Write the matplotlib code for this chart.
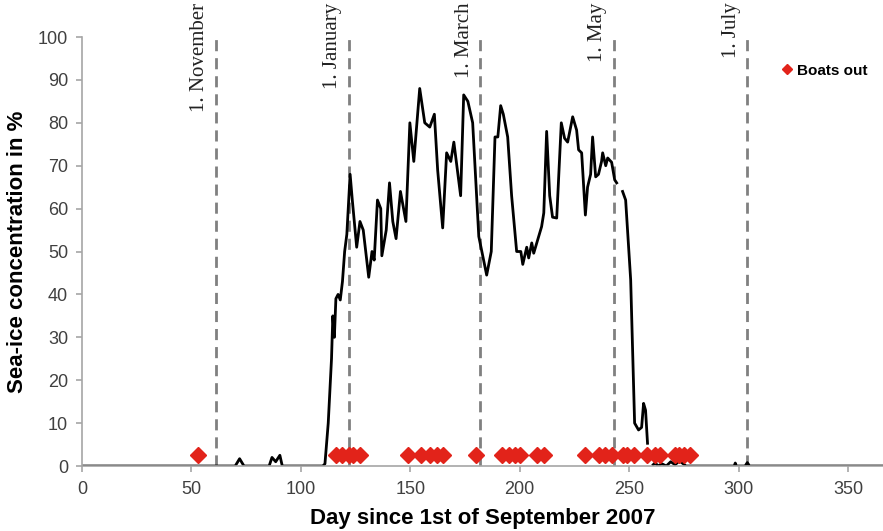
import matplotlib
matplotlib.use("Agg")
import numpy as np
import matplotlib.pyplot as plt

# sea-ice concentration (day since 1 Sep 2007, %)
ice_day = [0, 70, 72, 74, 85.5, 86.8, 88.5, 90.4, 91.5, 110, 111, 112.5, 114,
           114.6, 115.3, 116, 117, 118, 119, 120, 121, 122.5, 123.5, 125.5,
           127, 128.5, 131, 132.5, 133.5, 135, 136.5, 137, 139, 140.5, 142,
           143.5, 145.5, 148, 149.8, 151.6, 154.3, 156.6, 158.9, 161, 162.5,
           164.8, 166.6, 168.5, 169.9, 173, 174.4, 176.3, 178.5, 181.3, 184.9,
           187, 188.7, 190, 191.3, 192.5, 194.5, 196.3, 198.6, 200.5, 201.4,
           203.2, 204.1, 205.5, 206.4, 208.2, 210, 211, 212.3, 213.7, 215,
           216.9, 219, 220.5, 221.9, 224.2, 226, 226.9, 228.3, 230, 231, 232.4,
           233.3, 234.7, 236, 237.4, 237.9, 239.3, 240.2, 242, 243.4, 244.3,
           245, 247, 248.4, 250.7, 252.5, 254.3, 255.7, 256.6, 257.5, 258.4,
           259.5, 261, 262, 263, 265, 267, 269, 271, 273, 275, 276, 298,
           298.5, 299, 303, 304, 305, 366]
ice_pct = [0, 0, 1.7, 0, 0, 2, 1, 2.5, 0, 0, 0.5, 10, 25,
           35, 30, 39, 40, 38.7, 43, 50, 54, 68, 62, 51,
           57, 55, 44, 50, 48, 62, 60, 49, 55, 66, 57,
           53, 64, 57, 80, 71, 88, 80, 79, 82, 69,
           55.5, 73, 71, 75.5, 63, 86.5, 85, 80, 53.5, 44.5,
           50, 76.7, 76.7, 84, 82, 76.7, 63, 50, 50, 47,
           51, 48.5, 52, 49.6, 52.7, 55.8, 59, 78, 63, 58,
           57.8, 80, 76.4, 75.5, 81.4, 78.3, 73.7, 73, 58.5, 65, 68,
           76.7, 67.4, 68, 71, 73, 70, 71.8, 70.8, 66.7, 66,
           np.nan, 64, 62, 43.4, 10, 8.4, 9, 14.6, 13, 5.3,
           np.nan, 0.3, 0.8, 0, 0.5, 0, 1, 0.3, 1.2, 0.4, 0, 0,
           0.7, 0, 0, 0.8, 0, 0]

boat_days = [53, 116, 119, 122, 124, 127, 149, 155, 159, 162, 165, 180, 192,
             195, 198, 200, 208, 211, 230, 236, 239, 242, 247, 249, 252, 258,
             262, 264, 271, 273, 275, 278]
boat_level = [2.5] * len(boat_days)

month_days = [61, 122, 182, 243, 304]
month_names = ["1. November", "1. January", "1. March", "1. May", "1. July"]

fig = plt.figure(figsize=(8.83, 5.31), dpi=100)
ax = fig.add_axes([0.0929, 0.1224, 0.9071, 0.8079])

for d, name in zip(month_days, month_names):
  ax.axvline(d, color="#808080", lw=2, dashes=(4, 2.5), zorder=1)
  ax.text(d - 3, 1.08, name, transform=ax.get_xaxis_transform(),
          rotation=90, ha="right", va="top", fontsize=15,
          family="Liberation Serif", color="#222222")

ax.plot(ice_day, ice_pct, color="black", lw=2, zorder=2)
ax.plot(boat_days, boat_level, "D", color="#e2231a", markersize=8,
        linestyle="none", label="Boats out", zorder=3)

ax.set_xlim(0, 366)
ax.set_ylim(0, 100)
ax.set_xticks(range(0, 351, 50))
ax.set_yticks(range(0, 101, 10))

for s in ["top", "right"]:
  ax.spines[s].set_visible(False)
for s in ["left", "bottom"]:
  ax.spines[s].set_color("#a6a6a6")
  ax.spines[s].set_linewidth(1.2)
ax.tick_params(colors="#a6a6a6", labelcolor="#404040", labelsize=13,
               length=4, width=1.2)
for lab in ax.get_xticklabels() + ax.get_yticklabels():
  lab.set_family("Liberation Sans")
ax.tick_params(axis="x", pad=7)
ax.tick_params(axis="y", pad=6)

ax.set_xlabel("Day since 1st of September 2007", fontsize=16,
              fontweight="bold", family="Liberation Sans", labelpad=7)
ax.set_ylabel("Sea-ice concentration in %", fontsize=16,
              fontweight="bold", family="Liberation Sans", labelpad=7)

ax.legend(loc="upper left", bbox_to_anchor=(0.855, 0.97), frameon=False,
          handlelength=0.8, handletextpad=0.3, markerscale=0.6,
          prop={"family": "Liberation Sans", "weight": "bold", "size": 11})

fig.savefig("out.png", dpi=100)
